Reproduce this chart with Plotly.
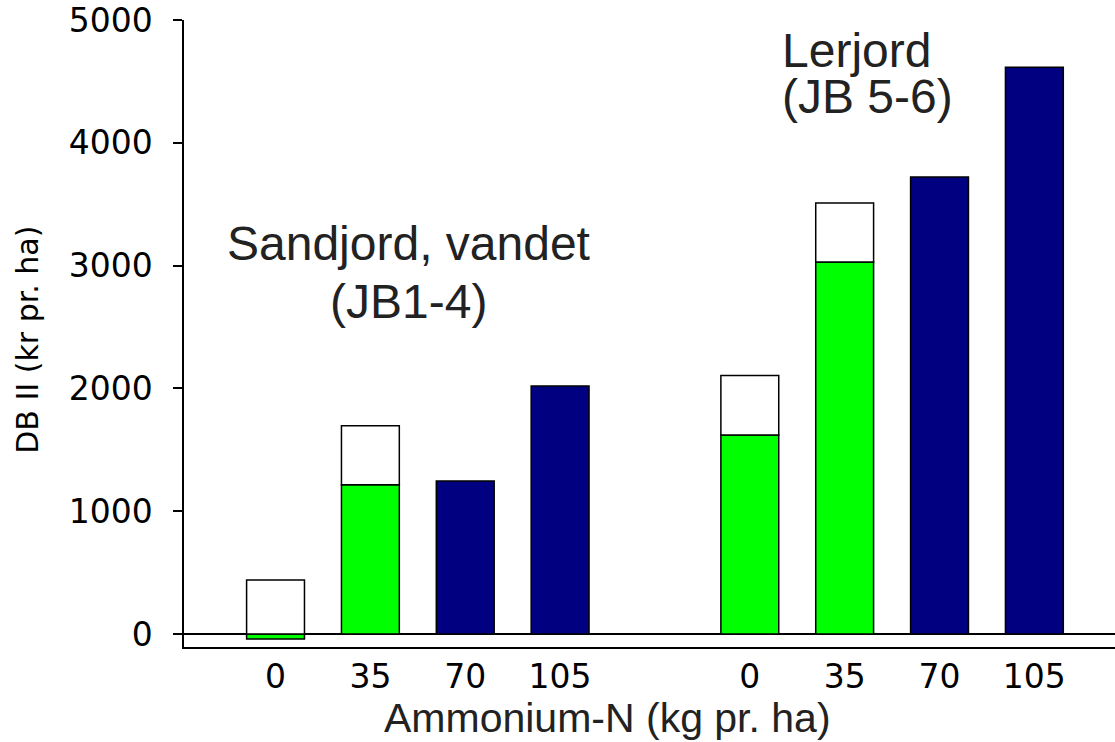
import plotly.graph_objects as go

# ---- data ----
soil_groups = ["Sandjord", "Lerjord"]
doses = ["0", "35", "70", "105"]
# values per group, in dose order
green_sand = [-40, 1215, None, None]
white_sand = [440, 480, None, None]
navy_sand = [None, None, 1246, 2020]
green_ler = [1620, 3030, None, None]
white_ler = [485, 480, None, None]
navy_ler = [None, None, 3722, 4615]

y_ticks = [0, 1000, 2000, 3000, 4000, 5000]

# x positions: four slots per group, one empty slot between groups
x_pos = [i for i in range(len(doses))] + [i + len(doses) + 1 for i in range(len(doses))]
tick_text = doses + doses

green = green_sand + green_ler
white = white_sand + white_ler
navy = navy_sand + navy_ler

line = dict(color="black", width=1.5)
fig = go.Figure()
fig.add_bar(x=x_pos, y=green, marker=dict(color="#00FF00", line=line), width=0.61, showlegend=False)
fig.add_bar(x=x_pos, y=white, marker=dict(color="#FFFFFF", line=line), width=0.61, showlegend=False)
fig.add_bar(x=x_pos, y=navy, marker=dict(color="#000080", line=line), width=0.61, showlegend=False)

tick_font = dict(family="DejaVu Sans", size=33, color="black")
ann_font = dict(family="Liberation Sans", size=48, color="#222222")

def label(text, x, y, anchor):
    return dict(text=text, x=x, y=y, xref="x", yref="y", showarrow=False,
                xanchor=anchor, yanchor="middle", font=ann_font)

fig.update_layout(
    barmode="relative",
    width=1115, height=742,
    margin=dict(l=184, r=0, t=20, b=95, autoexpand=False),
    paper_bgcolor="white", plot_bgcolor="white",
    xaxis=dict(
        range=[-0.965, 8.85],
        tickmode="array", tickvals=x_pos, ticktext=tick_text,
        showgrid=False, zeroline=False,
        showline=True, linecolor="black", linewidth=1.5,
        ticks="", tickfont=tick_font, ticklabelstandoff=0,
        automargin=False,
    ),
    yaxis=dict(
        range=[-106, 5000],
        tickmode="array", tickvals=y_ticks,
        showgrid=False,
        zeroline=True, zerolinecolor="black", zerolinewidth=1.5,
        showline=True, linecolor="black", linewidth=1.5,
        ticks="outside", ticklen=9, tickwidth=1.5, tickcolor="black",
        tickfont=tick_font, ticklabelstandoff=14,
        automargin=False,
    ),
    annotations=[
        label("Sandjord, vandet", 1.40, 3177, "center"),
        label("(JB1-4)", 1.40, 2705, "center"),
        label("Lerjord", 5.32, 4748, "left"),
        label("(JB 5-6)", 5.32, 4375, "left"),
        dict(text="Ammonium-N (kg pr. ha)", x=0.4544, y=-0.113, xref="paper", yref="paper",
             showarrow=False, xanchor="center", yanchor="middle",
             font=dict(family="Liberation Sans", size=41, color="#222222")),
        dict(text="DB II (kr pr. ha)", x=-0.1676, y=0.49, xref="paper", yref="paper",
             showarrow=False, xanchor="center", yanchor="middle", textangle=-90,
             font=dict(family="DejaVu Sans", size=30, color="black")),
    ],
)

fig.write_html("out.html", config={"displayModeBar": False},
               post_script="document.body.style.margin='0';document.body.style.overflow='hidden';")
